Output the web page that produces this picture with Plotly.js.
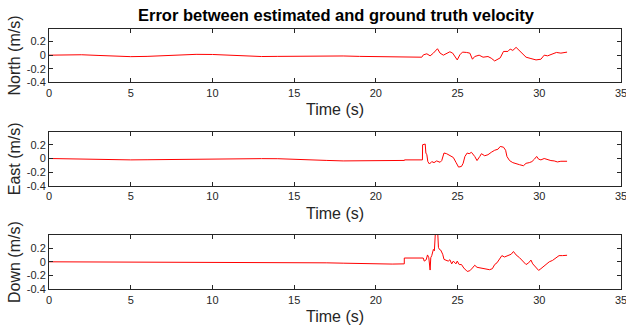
<!DOCTYPE html>
<html>
<head>
<meta charset="utf-8">
<script src="https://cdn.plot.ly/plotly-3.0.1.min.js"></script>
<style>html,body{margin:0;padding:0;background:#fff;}#chart{width:626px;height:332px;}</style>
</head>
<body>
<div id="chart"></div>
<script>
const chartTitle = "Error between estimated and ground truth velocity";
const xLabel = "Time (s)";
const yLabels = ["North (m/s)", "East (m/s)", "Down (m/s)"];
const xTicks = [0, 5, 10, 15, 20, 25, 30, 35];
const yTickVals = [-0.4, -0.2, 0, 0.2];
const yTickText = ["-0.4", "-0.2", "0", "0.2"];

const tNorth = [0,1,2,3,4,5,6,7,8,9,10,11,12,13,14,15,16,17,18,19,20,21,22,22.7,22.81,
  22.91,23.12,23.32,23.52,23.77,23.93,24.13,24.33,24.53,24.70,24.84,24.98,25.14,25.30,25.55,25.75,25.91,
  26.05,26.32,26.56,26.86,27.06,27.27,27.47,27.61,27.81,28.08,28.22,28.38,28.58,28.79,28.99,29.19,29.49,
  29.80,30.10,30.30,30.51,30.71,30.91,31.05,31.32,31.58,31.7];
const vNorth = [0,0.006,0.006,-0.004,-0.015,-0.022,-0.018,-0.008,0.005,0.012,0.01,0.0,-0.012,-0.02,-0.018,-0.015,-0.012,-0.008,-0.012,-0.018,-0.022,-0.024,-0.028,-0.035,-0.03,
  0.005,0.02,-0.01,0.03,0.095,0.03,0.0,0.03,0.05,0.03,-0.02,-0.07,0.005,0.045,0.04,0.03,-0.06,
  -0.02,0.0,-0.03,-0.02,-0.045,-0.085,-0.06,-0.04,0.055,0.055,0.09,0.07,0.115,0.07,0.02,-0.03,-0.05,
  -0.07,-0.06,0.0,-0.01,0.01,0.02,0.04,0.03,0.045,0.045];

const tEast = [0,1,2,3,4,5,6,7,8,9,10,11,12,13,14,15,16,17,18,19,20,21,21.75,21.75,22.85,22.86,
  23.02,23.06,23.12,23.18,23.28,23.42,23.56,23.72,23.93,24.03,24.17,24.33,24.53,24.74,24.90,25.06,25.24,
  25.34,25.45,25.59,25.71,25.85,26.05,26.19,26.36,26.46,26.66,26.86,27.06,27.27,27.47,27.61,27.81,27.94,
  28.02,28.18,28.38,28.58,28.79,29.03,29.19,29.39,29.55,29.70,29.84,29.96,30.10,30.30,30.51,30.71,30.91,
  31.11,31.32,31.58,31.7];
const vEast = [0,-0.005,-0.012,-0.018,-0.02,-0.02,-0.018,-0.015,-0.01,-0.006,-0.003,-0.002,-0.002,-0.002,-0.003,-0.008,-0.018,-0.028,-0.035,-0.035,-0.032,-0.03,-0.028,-0.02,-0.02,0.2,
  0.21,0.08,0.055,-0.045,-0.08,-0.045,-0.06,-0.035,-0.055,-0.03,0.08,0.07,0.04,0.015,-0.055,-0.125,-0.115,
  -0.07,0.03,0.08,0.07,0.09,0.03,-0.03,0.03,0.07,0.04,0.055,0.09,0.12,0.135,0.175,0.165,0.12,
  0.03,-0.03,-0.06,-0.07,-0.09,-0.105,-0.07,-0.06,-0.045,-0.01,0.03,-0.01,-0.02,0.0,-0.02,-0.03,-0.035,
  -0.05,-0.04,-0.04,-0.04];

const tDown = [0,2,5,8,10,12,14,15,16,17,18,19,20,20.5,21,21.74,21.74,22.9,22.96,23.08,23.16,23.24,23.28,23.32,
  23.36,23.42,23.52,23.58,23.66,23.77,23.83,23.89,23.97,24.09,24.17,24.29,24.43,24.53,24.64,24.74,24.90,24.98,
  25.10,25.24,25.38,25.59,25.75,25.91,26.05,26.19,26.36,26.56,26.76,26.96,27.13,27.27,27.41,27.57,27.71,27.87,
  28.08,28.28,28.42,28.58,28.79,28.95,29.09,29.19,29.35,29.49,29.60,29.76,29.96,30.10,30.24,30.40,30.61,30.81,
  31.01,31.21,31.42,31.58,31.7];
const vDown = [0,-0.002,-0.004,-0.006,-0.006,-0.006,-0.005,-0.006,-0.01,-0.015,-0.02,-0.025,-0.032,-0.035,-0.033,-0.03,0.055,0.055,0.01,0.03,0.1,0.06,-0.12,-0.12,
  0.06,0.09,0.18,0.16,0.5,0.5,0.21,0.18,0.17,0.11,0.035,0.02,0.01,0.03,-0.03,0.01,-0.03,0.01,
  -0.04,-0.04,-0.09,-0.14,-0.13,-0.09,-0.05,-0.08,-0.09,-0.1,-0.11,-0.115,-0.1,-0.04,-0.015,0.035,0.09,0.07,
  0.085,0.11,0.15,0.1,0.06,0.02,0.0,-0.04,-0.015,0.025,-0.03,-0.08,-0.125,-0.1,-0.07,-0.04,0.0,0.02,
  0.06,0.09,0.09,0.095,0.095];

const series = [[tNorth, vNorth], [tEast, vEast], [tDown, vDown]];
const W = 626, H = 332;
const pxTop = [28.7, 131.7, 235];
const pxBot = [82.3, 186, 289.3];
const axColor = '#262626';
const fontFam = '"Liberation Sans", Arial, Helvetica, sans-serif';

const traces = series.map((s, i) => ({
  x: s[0], y: s[1], type: 'scatter', mode: 'lines',
  line: {color: '#ff0000', width: 1},
  xaxis: i === 0 ? 'x' : 'x' + (i + 1),
  yaxis: i === 0 ? 'y' : 'y' + (i + 1),
  hoverinfo: 'skip', showlegend: false
}));

const layout = {
  width: W, height: H,
  margin: {l: 0, r: 0, t: 0, b: 0},
  paper_bgcolor: '#ffffff', plot_bgcolor: '#ffffff',
  font: {family: fontFam, color: axColor},
  title: {text: '<b>' + chartTitle + '</b>', font: {size: 16.5, color: '#000000', family: fontFam},
          x: 336 / W, xanchor: 'center', y: 1 - 15 / H, yanchor: 'middle', xref: 'paper', yref: 'container'},
  showlegend: false
};

for (let i = 0; i < 3; i++) {
  const sfx = i === 0 ? '' : String(i + 1);
  layout['xaxis' + sfx] = {
    domain: [49 / W, 621 / W], range: [-0.0001, 35.0001], anchor: 'y' + sfx,
    tickvals: xTicks, ticktext: xTicks.map(String),
    ticklabeloverflow: 'allow',
    showline: true, mirror: 'ticks', linecolor: axColor, linewidth: 1,
    ticks: 'inside', ticklen: 4, tickcolor: axColor, tickwidth: 1,
    showgrid: false, zeroline: false,
    tickfont: {size: 11, color: axColor, family: fontFam},
    title: {text: xLabel, font: {size: 16, color: axColor, family: fontFam}, standoff: 6},
    automargin: false
  };
  layout['yaxis' + sfx] = {
    domain: [1 - pxBot[i] / H, 1 - pxTop[i] / H], range: [-0.4, 0.39], anchor: 'x' + sfx,
    tickvals: yTickVals, ticktext: yTickText,
    showline: true, mirror: 'ticks', linecolor: axColor, linewidth: 1,
    ticks: 'inside', ticklen: 4, tickcolor: axColor, tickwidth: 1,
    showgrid: false, zeroline: false,
    tickfont: {size: 11, color: axColor, family: fontFam},
    title: {text: yLabels[i], font: {size: 16, color: axColor, family: fontFam}, standoff: 2},
    automargin: false
  };
}

Plotly.newPlot('chart', traces, layout, {staticPlot: true, displayModeBar: false});
</script>
</body>
</html>
